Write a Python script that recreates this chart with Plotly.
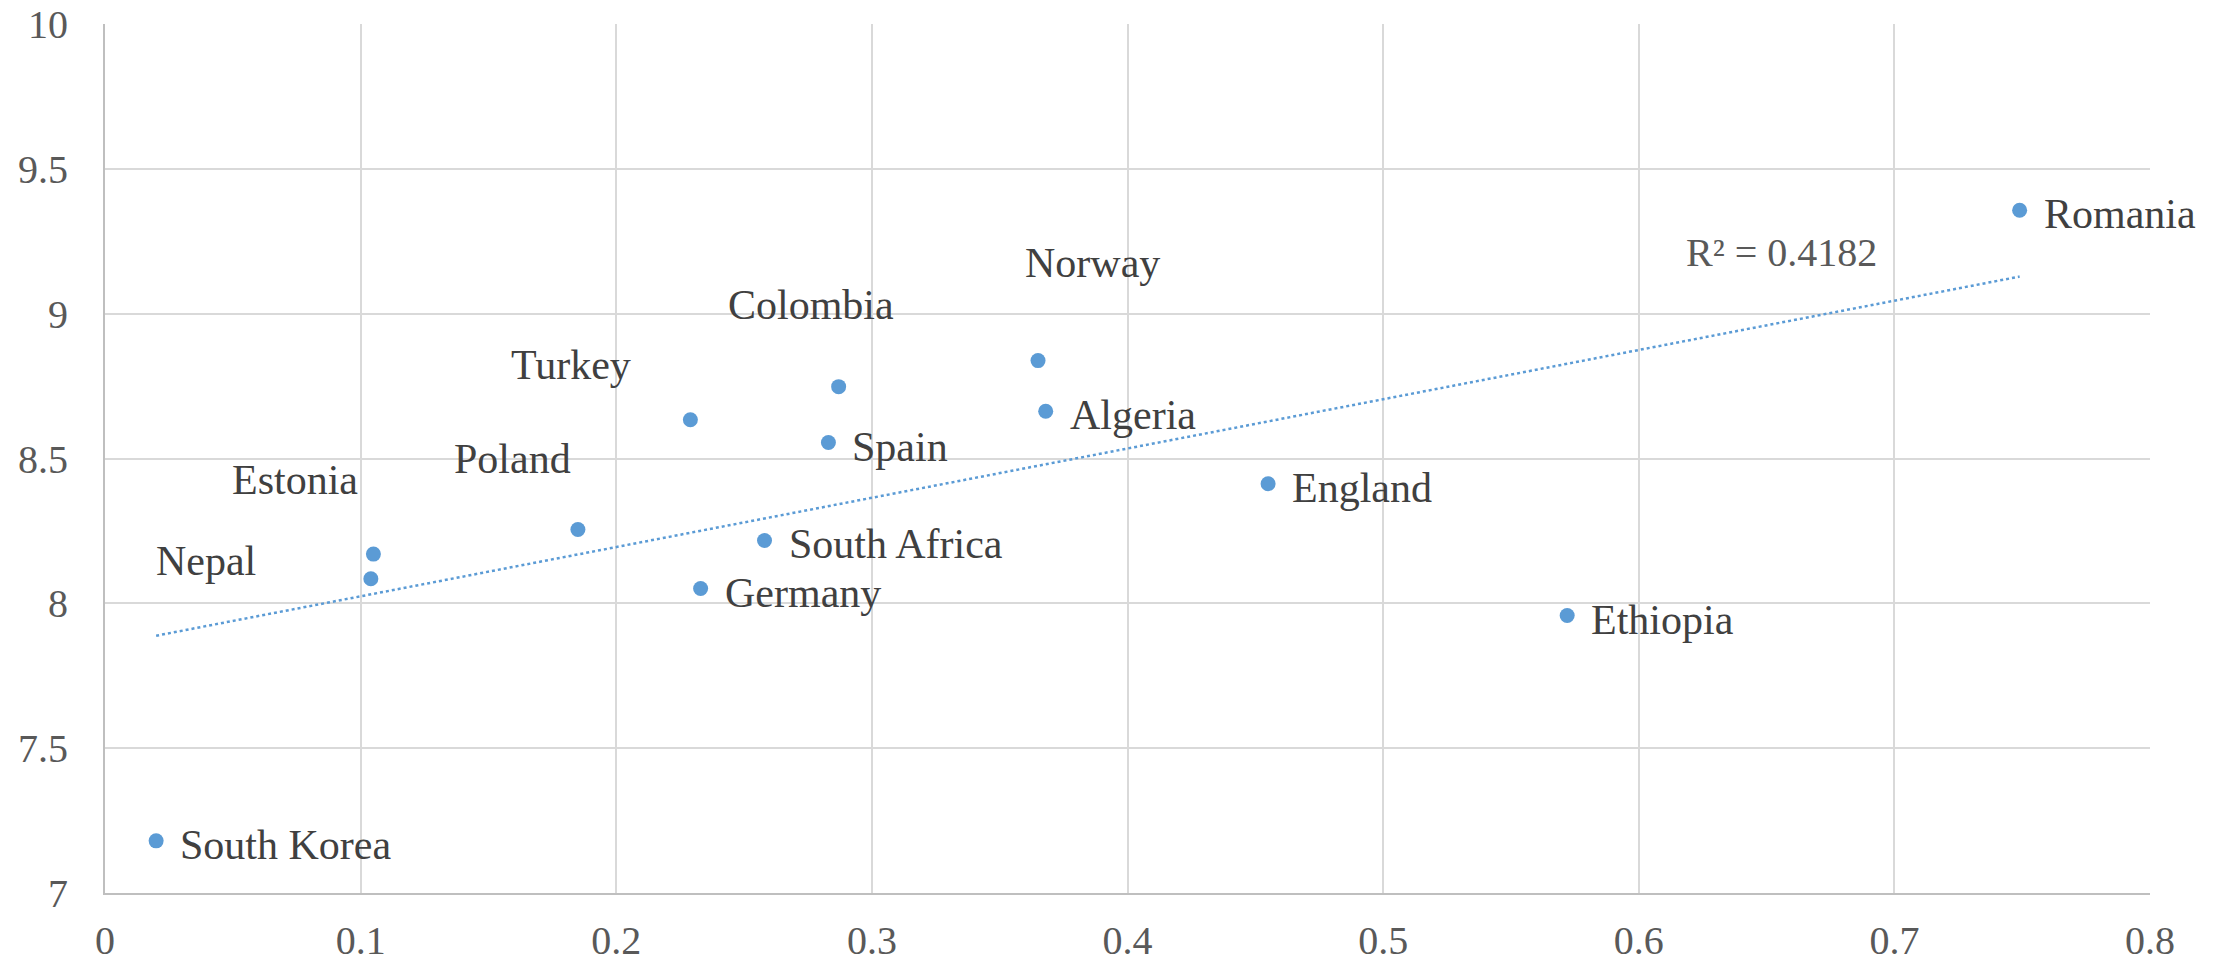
import numpy as np
import plotly.graph_objects as go

countries = ["South Korea", "Nepal", "Estonia", "Poland", "Turkey", "Germany", "South Africa",
             "Spain", "Colombia", "Norway", "Algeria", "England", "Ethiopia", "Romania"]
x_vals = [0.020, 0.104, 0.105, 0.185, 0.229, 0.233, 0.258, 0.283, 0.287, 0.365, 0.368, 0.455, 0.572, 0.749]
y_vals = [7.18, 8.085, 8.17, 8.255, 8.634, 8.051, 8.217, 8.555, 8.748, 8.838, 8.663, 8.413, 7.958, 9.357]
x_ticks = [0, 0.1, 0.2, 0.3, 0.4, 0.5, 0.6, 0.7, 0.8]
y_ticks = [7, 7.5, 8, 8.5, 9, 9.5, 10]
r2_text = "R² = 0.4182"

# label placement offsets in pixels (dx, dy, anchor)
label_pos = {
    "Nepal": (-165, 18, "center"),
    "Estonia": (-78, 74, "center"),
    "Poland": (-65, 70, "center"),
    "Turkey": (-119, 55, "center"),
    "Colombia": (-28, 82, "center"),
    "Norway": (54, 98, "center"),
}

blue = "#5B9BD5"
font_family = "Liberation Serif"

fig = go.Figure()

# linear trendline
slope, intercept = np.polyfit(x_vals, y_vals, 1)
tx = [min(x_vals), max(x_vals)]
ty = [slope * v + intercept for v in tx]
fig.add_trace(go.Scatter(x=tx, y=ty, mode="lines",
                         line=dict(color=blue, width=2.5, dash="dot"),
                         hoverinfo="skip", showlegend=False))

fig.add_trace(go.Scatter(x=x_vals, y=y_vals, mode="markers",
                         marker=dict(color=blue, size=15),
                         text=countries, showlegend=False))

for c, xv, yv in zip(countries, x_vals, y_vals):
    if c in label_pos:
        dx, dy, anc = label_pos[c]
    else:
        dx, dy, anc = (22, -4, "left")
    fig.add_annotation(x=xv, y=yv, text=c, showarrow=False, xanchor=anc, yanchor="middle",
                       xshift=dx, yshift=dy,
                       font=dict(family=font_family, size=42, color="#404040"))

fig.add_annotation(x=0.656, y=9.212, text=r2_text, showarrow=False, xanchor="center", yanchor="middle",
                   font=dict(family=font_family, size=40, color="#595959"))

fig.update_layout(
    width=2224, height=964,
    margin=dict(l=105, r=74, t=24, b=71, autoexpand=False),
    paper_bgcolor="white", plot_bgcolor="white",
    font=dict(family=font_family, size=40, color="#595959"),
    showlegend=False,
)
fig.update_xaxes(range=[0, 0.8], tickvals=x_ticks, ticktext=[f"{v:g}" for v in x_ticks],
                 showgrid=True, gridcolor="#D9D9D9", gridwidth=2, automargin=False,
                 showline=True, linecolor="#BFBFBF", linewidth=2, zeroline=False,
                 ticks="", ticklabelstandoff=11, ticklabeloverflow="allow",
                 tickfont=dict(family=font_family, size=40, color="#595959"))
fig.update_yaxes(range=[7, 10], tickvals=y_ticks, ticktext=[f"{v:g}" for v in y_ticks],
                 showgrid=True, gridcolor="#D9D9D9", gridwidth=2, automargin=False,
                 showline=True, linecolor="#BFBFBF", linewidth=2, zeroline=False,
                 ticks="", ticklabelstandoff=27, ticklabeloverflow="allow",
                 tickfont=dict(family=font_family, size=40, color="#595959"))

fig.write_html("out.html", config={"displayModeBar": False},
               post_script="document.body.style.margin='0';document.body.style.overflow='hidden';")
